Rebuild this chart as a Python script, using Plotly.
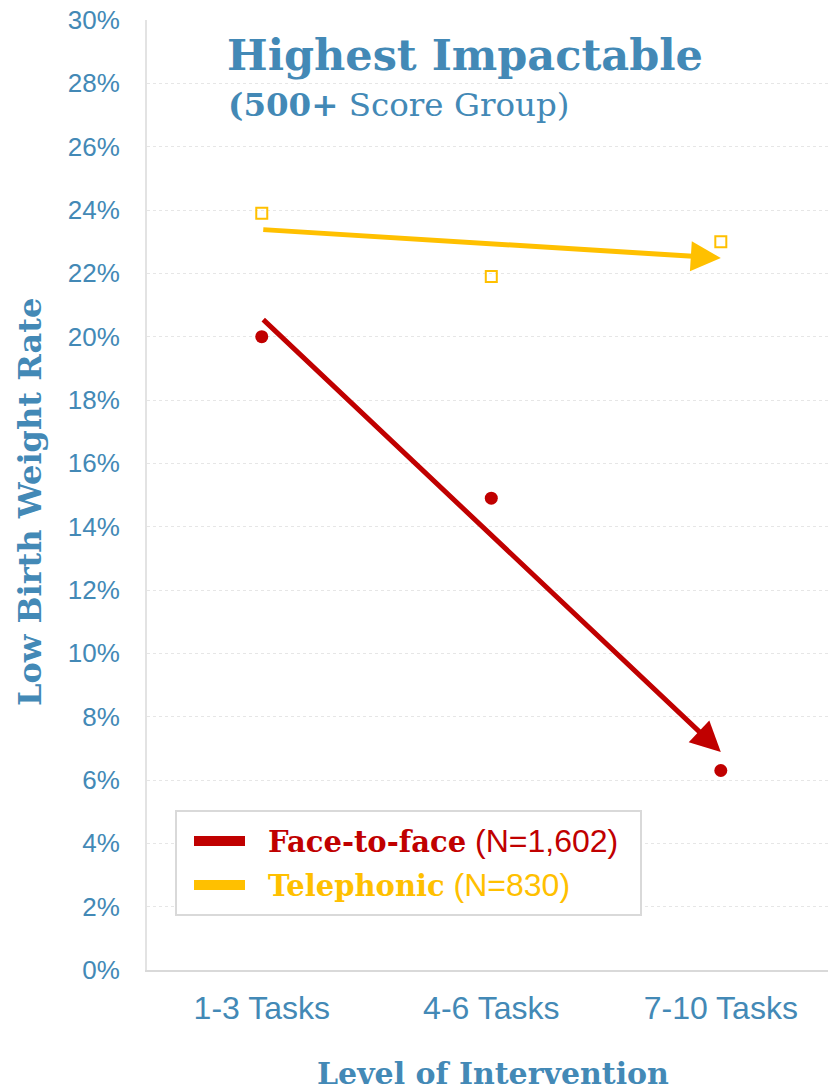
import numpy as np
import plotly.graph_objects as go

categories = ["1-3 Tasks", "4-6 Tasks", "7-10 Tasks"]
face_to_face = [20.0, 14.9, 6.3]
telephonic = [23.9, 21.9, 23.0]
y_ticks = list(range(0, 31, 2))
y_tick_labels = [f"{v}%" for v in y_ticks]

RED = "#C00000"
GOLD = "#FFC000"
BLUE = "#4389B6"
SERIF = "DejaVu Serif"
SANS = "Liberation Sans, Arial"

W, H = 828, 1091
PL, PT, PB = 147, 20, 970
PW = W - PL
PH = PB - PT

xs = np.arange(len(categories))

def px(x):
    return (x - PL) / PW

def py(y):
    return (PB - y) / PH

fig = go.Figure()
fig.add_trace(go.Scatter(x=xs, y=telephonic, mode="markers", name="Telephonic",
                         marker=dict(symbol="square-open", size=11, color=GOLD,
                                     line=dict(width=2, color=GOLD)),
                         showlegend=False))
fig.add_trace(go.Scatter(x=xs, y=face_to_face, mode="markers", name="Face-to-face",
                         marker=dict(symbol="circle", size=13, color=RED),
                         showlegend=False))

# linear trendlines with arrowheads
for vals, col in [(telephonic, GOLD), (face_to_face, RED)]:
    m, b = np.polyfit(xs, vals, 1)
    y0 = m * xs[0] + b
    y1 = m * xs[-1] + b
    fig.add_annotation(x=float(xs[-1]), y=float(y1), ax=float(xs[0]), ay=float(y0),
                       xref="x", yref="y", axref="x", ayref="y",
                       showarrow=True, arrowhead=2, arrowsize=1.2, arrowwidth=5,
                       arrowcolor=col, standoff=0, startstandoff=0, text="")

# titles inside plot
fig.add_annotation(x=px(465), y=py(55), xref="paper", yref="paper",
                   text="<b>Highest Impactable</b>", showarrow=False,
                   font=dict(family=SERIF, size=43, color=BLUE), xanchor="center", yanchor="middle")
fig.add_annotation(x=px(226), y=py(105), xref="paper", yref="paper",
                   text="<b>(500+</b> Score Group)", showarrow=False,
                   font=dict(family=SERIF, size=32.5, color=BLUE), xanchor="left", yanchor="middle")

# axis titles
fig.add_annotation(x=px(30), y=py(502), xref="paper", yref="paper", textangle=-90,
                   text="<b>Low Birth Weight Rate</b>", showarrow=False,
                   font=dict(family=SERIF, size=32, color=BLUE), xanchor="center", yanchor="middle")
fig.add_annotation(x=px(493), y=py(1073), xref="paper", yref="paper",
                   text="<b>Level of Intervention</b>", showarrow=False,
                   font=dict(family=SERIF, size=30, color=BLUE), xanchor="center", yanchor="middle")

# manual legend
fig.add_shape(type="rect", xref="paper", yref="paper", x0=px(176), x1=px(641), y0=py(915), y1=py(811),
              line=dict(color="#D9D9D9", width=2), fillcolor="white", layer="above")
for yy, col, name, n in [(841, RED, "Face-to-face", "(N=1,602)"), (885, GOLD, "Telephonic", "(N=830)")]:
    fig.add_shape(type="line", xref="paper", yref="paper", x0=px(194), x1=px(245), y0=py(yy), y1=py(yy),
                  line=dict(color=col, width=10), layer="above")
    fig.add_annotation(x=px(266), y=py(yy), xref="paper", yref="paper", showarrow=False,
                       xanchor="left", yanchor="middle",
                       text=f"<b><span style='font-family:{SERIF};font-size:29px'>{name}</span></b> {n}",
                       font=dict(family=SANS, size=32, color=col))

fig.update_layout(
    width=W, height=H,
    margin=dict(l=PL, r=0, t=PT, b=H - PB, autoexpand=False),
    paper_bgcolor="white", plot_bgcolor="white",
    showlegend=False,
    xaxis=dict(range=[-0.5, 2.467], tickvals=list(xs), ticktext=categories,
               tickfont=dict(family=SANS, size=32, color=BLUE),
               showgrid=False, zeroline=False, showline=True, linecolor="#D9D9D9", linewidth=2,
               ticks="", ticklabelstandoff=9, ticklabeloverflow="allow"),
    yaxis=dict(range=[0, 30], tickvals=y_ticks, ticktext=y_tick_labels,
               tickfont=dict(family=SANS, size=26, color=BLUE),
               showgrid=True, gridcolor="#E6E6E6", griddash="dot", gridwidth=1,
               zeroline=False, showline=True, linecolor="#E3E3E3", linewidth=2, mirror=True,
               ticks="", ticklabelstandoff=20, ticklabeloverflow="allow"),
)

fig.write_html("out.html", config={"displayModeBar": False},
               post_script="document.body.style.margin='0px';document.body.style.overflow='hidden';")
